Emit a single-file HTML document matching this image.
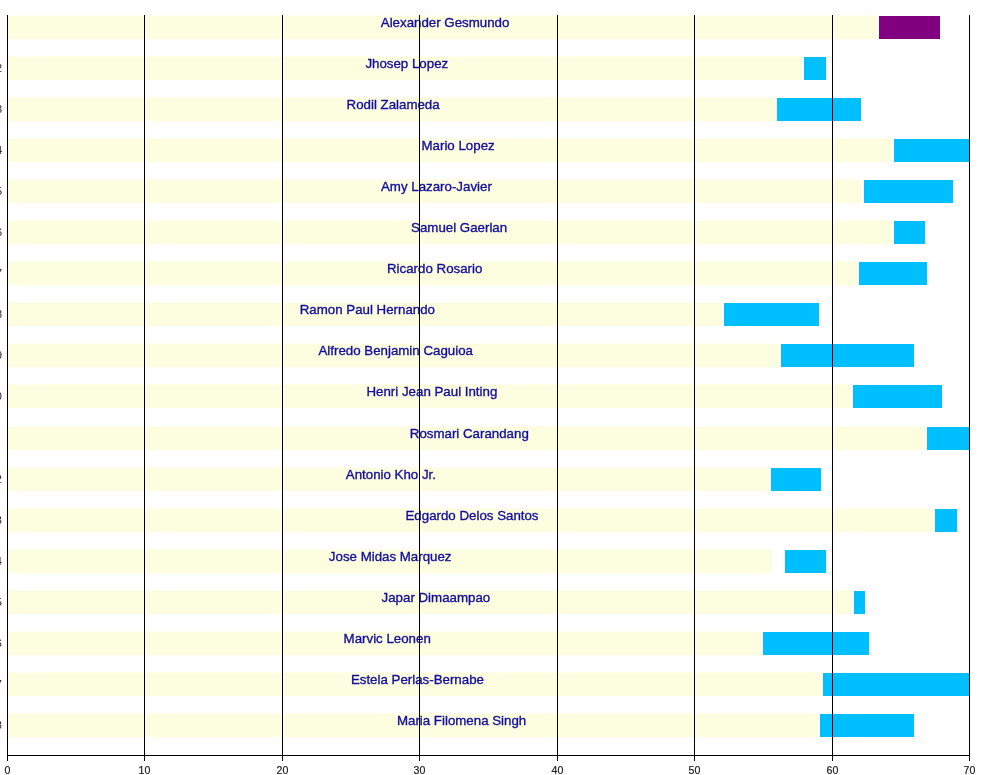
<!DOCTYPE html><html><head><meta charset="utf-8"><style>html,body{margin:0;padding:0;background:#fff;width:1000px;height:775px;overflow:hidden}svg{display:block;will-change:transform}text{font-family:"Liberation Sans",Arial,sans-serif}</style></head><body>
<svg width="1000" height="775" viewBox="0 0 1000 775">
<rect width="1000" height="775" fill="#fff"/>
<g shape-rendering="crispEdges">
<rect x="8" y="15.5" width="869" height="23.5" fill="#fdfee0" shape-rendering="auto"/>
<rect x="879" y="16" width="61" height="23" fill="#800080"/>
<rect x="8" y="56.5" width="794" height="23.5" fill="#fdfee0" shape-rendering="auto"/>
<rect x="804" y="57" width="22" height="23" fill="#00bfff"/>
<rect x="8" y="97.5" width="767" height="23.5" fill="#fdfee0" shape-rendering="auto"/>
<rect x="777" y="98" width="84" height="23" fill="#00bfff"/>
<rect x="8" y="138.5" width="884" height="23.5" fill="#fdfee0" shape-rendering="auto"/>
<rect x="894" y="139" width="75" height="23" fill="#00bfff"/>
<rect x="8" y="179.5" width="854" height="23.5" fill="#fdfee0" shape-rendering="auto"/>
<rect x="864" y="180" width="89" height="23" fill="#00bfff"/>
<rect x="8" y="220.5" width="884" height="23.5" fill="#fdfee0" shape-rendering="auto"/>
<rect x="894" y="221" width="31" height="23" fill="#00bfff"/>
<rect x="8" y="261.5" width="849" height="23.5" fill="#fdfee0" shape-rendering="auto"/>
<rect x="859" y="262" width="68" height="23" fill="#00bfff"/>
<rect x="8" y="302.5" width="714" height="23.5" fill="#fdfee0" shape-rendering="auto"/>
<rect x="724" y="303" width="95" height="23" fill="#00bfff"/>
<rect x="8" y="343.5" width="771" height="23.5" fill="#fdfee0" shape-rendering="auto"/>
<rect x="781" y="344" width="133" height="23" fill="#00bfff"/>
<rect x="8" y="384.5" width="843" height="23.5" fill="#fdfee0" shape-rendering="auto"/>
<rect x="853" y="385" width="89" height="23" fill="#00bfff"/>
<rect x="8" y="426.5" width="917" height="23.5" fill="#fdfee0" shape-rendering="auto"/>
<rect x="927" y="427" width="42" height="23" fill="#00bfff"/>
<rect x="8" y="467.5" width="761" height="23.5" fill="#fdfee0" shape-rendering="auto"/>
<rect x="771" y="468" width="50" height="23" fill="#00bfff"/>
<rect x="8" y="508.5" width="925" height="23.5" fill="#fdfee0" shape-rendering="auto"/>
<rect x="935" y="509" width="22" height="23" fill="#00bfff"/>
<rect x="8" y="549.5" width="764" height="23.5" fill="#fdfee0" shape-rendering="auto"/>
<rect x="785" y="550" width="41" height="23" fill="#00bfff"/>
<rect x="8" y="590.5" width="844" height="23.5" fill="#fdfee0" shape-rendering="auto"/>
<rect x="854" y="591" width="11" height="23" fill="#00bfff"/>
<rect x="8" y="631.5" width="753" height="23.5" fill="#fdfee0" shape-rendering="auto"/>
<rect x="763" y="632" width="106" height="23" fill="#00bfff"/>
<rect x="8" y="672.5" width="813" height="23.5" fill="#fdfee0" shape-rendering="auto"/>
<rect x="823" y="673" width="146" height="23" fill="#00bfff"/>
<rect x="8" y="713.5" width="810" height="23.5" fill="#fdfee0" shape-rendering="auto"/>
<rect x="820" y="714" width="94" height="23" fill="#00bfff"/>
</g>
<g font-size="13.3" fill="#120e9f" stroke="#120e9f" stroke-width="0.35" text-anchor="middle">
<text x="445.1" y="27.0">Alexander Gesmundo</text>
<text x="406.8" y="68.0">Jhosep Lopez</text>
<text x="393.1" y="109.0">Rodil Zalameda</text>
<text x="458.1" y="150.0">Mario Lopez</text>
<text x="436.4" y="191.0">Amy Lazaro-Javier</text>
<text x="459.1" y="232.0">Samuel Gaerlan</text>
<text x="434.7" y="273.0">Ricardo Rosario</text>
<text x="367.4" y="314.0">Ramon Paul Hernando</text>
<text x="395.7" y="355.0">Alfredo Benjamin Caguioa</text>
<text x="431.9" y="396.0">Henri Jean Paul Inting</text>
<text x="469.3" y="438.0">Rosmari Carandang</text>
<text x="390.9" y="479.0">Antonio Kho Jr.</text>
<text x="472.0" y="520.0">Edgardo Delos Santos</text>
<text x="390.2" y="561.0">Jose Midas Marquez</text>
<text x="435.9" y="602.0">Japar Dimaampao</text>
<text x="387.2" y="643.0">Marvic Leonen</text>
<text x="417.4" y="684.0">Estela Perlas-Bernabe</text>
<text x="461.6" y="725.0">Maria Filomena Singh</text>
</g>
<g font-size="11" fill="#222" text-anchor="end">
<text x="-0.5" y="30.5">1</text>
<text x="2" y="71.5">2</text>
<text x="2" y="112.5">3</text>
<text x="2" y="153.5">4</text>
<text x="2" y="194.5">5</text>
<text x="2" y="235.5">6</text>
<text x="2" y="276.5">7</text>
<text x="2" y="317.5">8</text>
<text x="2" y="358.5">9</text>
<text x="2" y="399.5">10</text>
<text x="-0.5" y="441.5">11</text>
<text x="2" y="482.5">12</text>
<text x="2" y="523.5">13</text>
<text x="2" y="564.5">14</text>
<text x="2" y="605.5">15</text>
<text x="2" y="646.5">16</text>
<text x="2" y="687.5">17</text>
<text x="2" y="728.5">18</text>
</g>
<g shape-rendering="crispEdges" fill="#000">
<rect x="7" y="15" width="1" height="746"/>
<rect x="144" y="15" width="1" height="746"/>
<rect x="282" y="15" width="1" height="746"/>
<rect x="419" y="15" width="1" height="746"/>
<rect x="557" y="15" width="1" height="746"/>
<rect x="694" y="15" width="1" height="746"/>
<rect x="832" y="15" width="1" height="746"/>
<rect x="969" y="15" width="1" height="746"/>
<rect x="7" y="755" width="963" height="1"/>
</g>
<g font-size="10.6" fill="#222" stroke="#222" stroke-width="0.2" text-anchor="middle">
<text x="7.5" y="774">0</text>
<text x="144.5" y="774">10</text>
<text x="282.5" y="774">20</text>
<text x="419.5" y="774">30</text>
<text x="557.5" y="774">40</text>
<text x="694.5" y="774">50</text>
<text x="832.5" y="774">60</text>
<text x="969.5" y="774">70</text>
</g>
</svg></body></html>
